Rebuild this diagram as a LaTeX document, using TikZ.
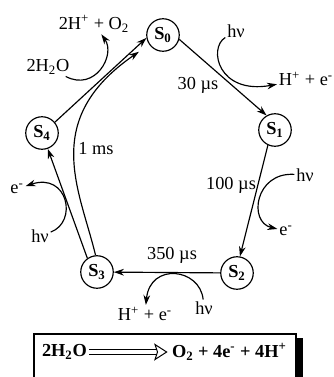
\documentclass[tikz,border=0pt]{standalone}
\usepackage{fontspec}
\setmainfont{Liberation Serif}
\usetikzlibrary{arrows.meta}

\tikzset{
  state/.style={circle, draw, line width=0.7pt, minimum size=19.5pt, inner sep=0pt, font=\fontsize{11}{13}\selectfont\bfseries},
  flow/.style={line width=0.7pt, -{Stealth[length=6pt,width=4pt]}},
  note/.style={inner sep=1pt},
}

\begin{document}
\begin{tikzpicture}[x=0.6pt, y=-0.6pt, font=\fontsize{11}{13}\selectfont]
	\clip (0,0) rectangle (334,377);
	% the five states
	\node[state] (S0) at (163,35) {S\textsubscript{0}};
	\node[state] (S1) at (275,130) {S\textsubscript{1}};
	\node[state] (S2) at (237,273) {S\textsubscript{2}};
	\node[state] (S3) at (97,272) {S\textsubscript{3}};
	\node[state] (S4) at (42,133) {S\textsubscript{4}};
	% transition times
	\node[note] (t01) at (198,85) {30 µs};
	\node[note] (t12) at (231,185) {100 µs};
	\node[note] (t23) at (172,255) {350 µs};
	\node[note] (t30) at (96,149) {1 ms};
	% cycle
	\draw[flow] (S0.-15) -- (S1.120);
	\draw[flow] (S1.-115) -- (S2.80);
	\draw[flow] (S2) -- (S3);
	\draw[flow] (S3.125) -- (S4.-70);
	\draw[flow] (S4.40) -- (S0.190);
	\draw[flow, shorten >=7.5pt] (S3.95) .. controls (80,190) and (40,120) .. (S0.215);
	% light and products
	\node[note] (hvA) at (236,31) {hν};
	\node[note] (pA) at (306,79) {H\textsuperscript{+} + e\textsuperscript{-}};
	\draw[flow] (hvA) .. controls (208,48) and (218,95) .. (pA);
	\node[note] (hvC) at (305,175) {hν};
	\node[note] (pC) at (286,231) {e\textsuperscript{-}};
	\draw[flow] (hvC) .. controls (255,172) and (248,222) .. (pC);
	\node[note] (hvE) at (204,308) {hν};
	\node[note] (pE) at (145,314) {H\textsuperscript{+} + e\textsuperscript{-}};
	\draw[flow] (hvE) .. controls (200,268) and (150,262) .. (pE);
	\node[note] (hvD) at (40,236) {hν};
	\node[note] (pD) at (17,189) {e\textsuperscript{-}};
	\draw[flow] (hvD) .. controls (78,222) and (68,172) .. (pD);
	\node[note] (h2o) at (48,67) {2H\textsubscript{2}O};
	\node[note] (pB) at (94,24) {2H\textsuperscript{+} + O\textsubscript{2}};
	\draw[flow] (h2o) .. controls (95,92) and (116,55) .. (pB);
	% overall reaction
	\fill (296,338) rectangle (303,390);
	\draw[line width=0.7pt] (34,334) rectangle (296,390);
	\node[note, font=\fontsize{11}{13}\selectfont\bfseries, anchor=east] (lhs) at (89,352) {2H\textsubscript{2}O};
	\node[note, font=\fontsize{11}{13}\selectfont\bfseries, anchor=west] (rhs) at (170,352) {O\textsubscript{2} + 4e\textsuperscript{-} + 4H\textsuperscript{+}};
	\draw[line width=0.6pt, double distance=2.6pt, shorten >=8pt] (lhs) -- (rhs);
	\draw[line width=0.6pt, fill=white] ([xshift=-2pt]rhs.west) -- ++(-7pt,4.5pt) -- ++(1.5pt,-4.5pt) -- ++(-1.5pt,-4.5pt) -- cycle;
\end{tikzpicture}
\end{document}
